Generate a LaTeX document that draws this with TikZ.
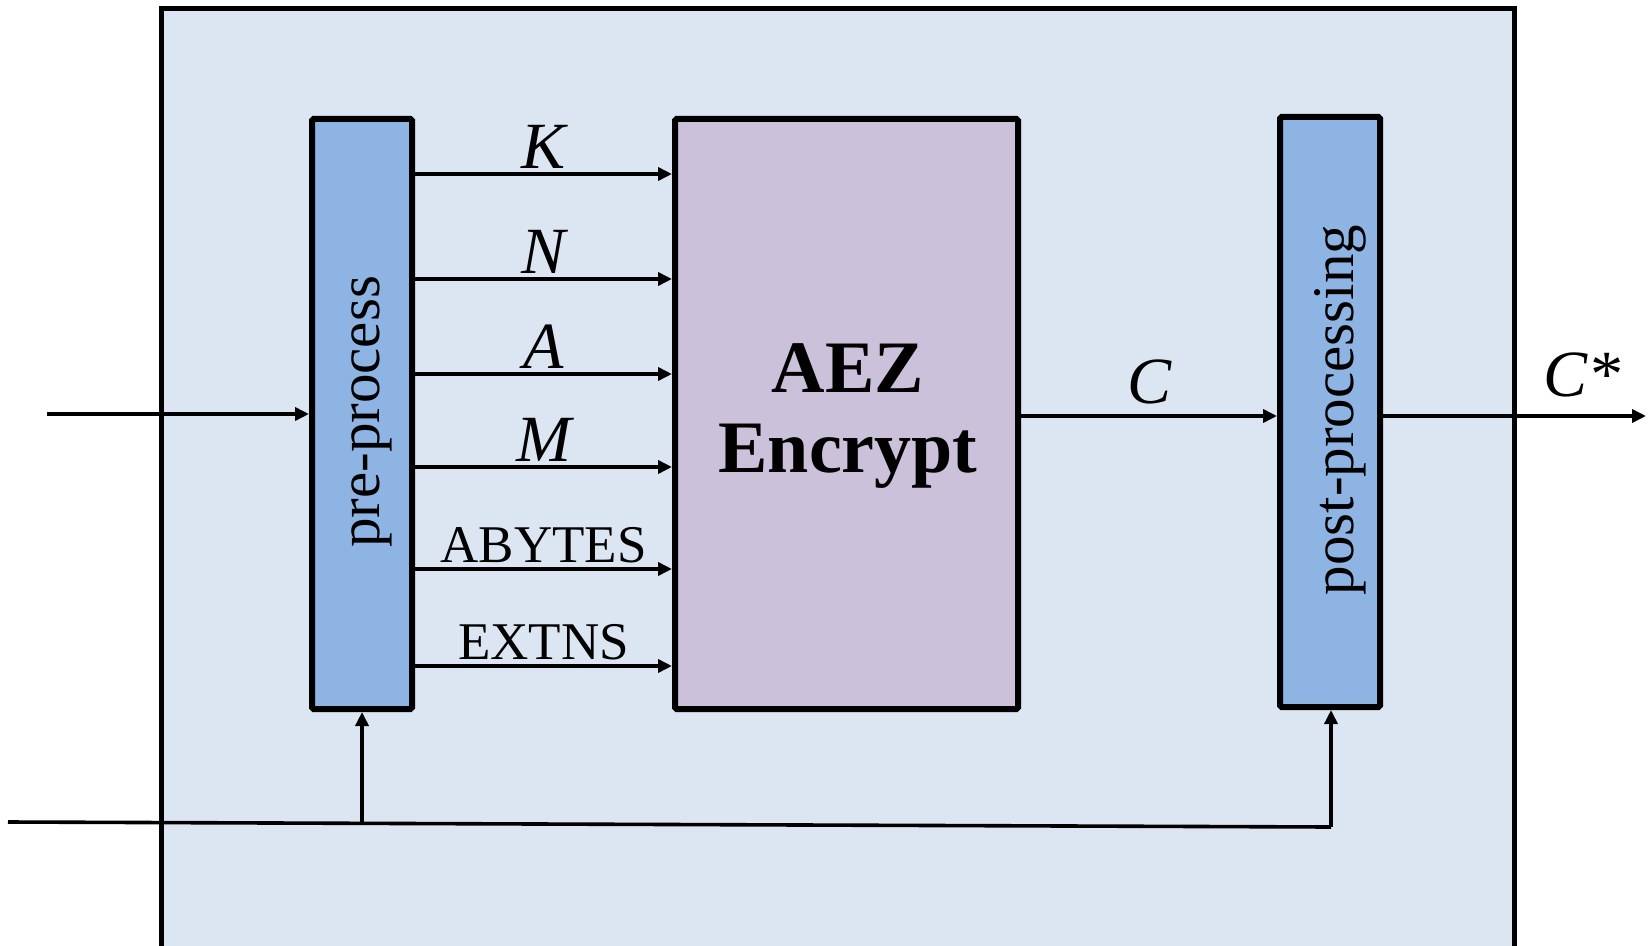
\documentclass[tikz,border=0pt]{standalone}
\usepackage{fontspec}
\setmainfont{Liberation Serif}
\usetikzlibrary{arrows.meta,calc}
\definecolor{panelfill}{HTML}{DCE6F2}
\definecolor{procfill}{HTML}{8EB4E3}
\definecolor{encfill}{HTML}{CCC1DA}
\tikzset{
  procbox/.style={draw=black, line width=3pt, fill=procfill, minimum width=50pt, minimum height=295pt, inner sep=0pt, rounded corners=0.8pt},
  encbox/.style={draw=black, line width=3pt, fill=encfill, minimum width=171.5pt, minimum height=295pt, inner sep=0pt, rounded corners=0.8pt},
  arr/.style={line width=1.8pt, -{Triangle[length=7pt,width=6.5pt]}},
  wire/.style={line width=1.8pt},
  lbl/.style={font=\fontsize{26.5}{28}\selectfont, inner sep=1pt},
  ilbl/.style={font=\fontsize{33}{35}\selectfont\itshape, inner sep=1pt},
  vlbl/.style={font=\fontsize{29.5}{31}\selectfont, rotate=90},
}
\begin{document}
\begin{tikzpicture}[x=0.5pt, y=-0.5pt]
\useasboundingbox (0,0) rectangle (1652,946);
% enclosing panel
\draw[line width=2.5pt, fill=panelfill] (161,9) rectangle (1514,952);
\coordinate (panel) at (161,9);

% main blocks
\node[procbox] (pre) at (362,414) {};
\node[vlbl] (pretext) at ($(pre.center)+(10,-2)$) {pre-process};
\node[encbox] (enc) at (846.5,414) {};
\node[font=\fontsize{37}{40}\selectfont\bfseries, align=center] (enctext) at (848,416) {AEZ\\Encrypt};
\node[procbox] (post) at (1330,412) {};
\node[vlbl] (posttext) at ($(post.center)+(10,-2)$) {post-processing};

% inputs of the encryption block
\foreach \yy/\txt/\sty in {174/K/ilbl, 279/N/ilbl, 374/A/ilbl, 467/M/ilbl, 569/ABYTES/lbl, 666/EXTNS/lbl}{
  \coordinate (src) at (pre.east |- 0,\yy);
  \coordinate (dst) at (enc.west |- 0,\yy);
  \draw[arr] (src) -- (dst) node[midway, above=1pt, \sty] {\txt};
}

% external input
\coordinate (in) at (47,414);
\draw[arr] (in) -- (pre.west |- in);

% ciphertext and final output
\coordinate (cmid) at (enc.east |- 0,416);
\draw[arr] (cmid) -- (post.west |- cmid) node[midway, above=4pt, ilbl] {C};
\coordinate (outend) at (1646,416);
\draw[arr] (post.east |- outend) -- (outend);
\node[ilbl, anchor=base] (cstar) at (1582,396) {C*};

% shared lower line feeding both processing blocks
\coordinate (b0) at (8,822);
\coordinate (b1) at (1331,827);
\coordinate (bj) at ($(b0)!0.2676!(b1)$);
\draw[wire] (b0) -- (b1);
\draw[arr] (b1) -- (post.south -| b1);
\draw[arr] (bj) -- (pre.south -| bj);
\end{tikzpicture}
\end{document}
